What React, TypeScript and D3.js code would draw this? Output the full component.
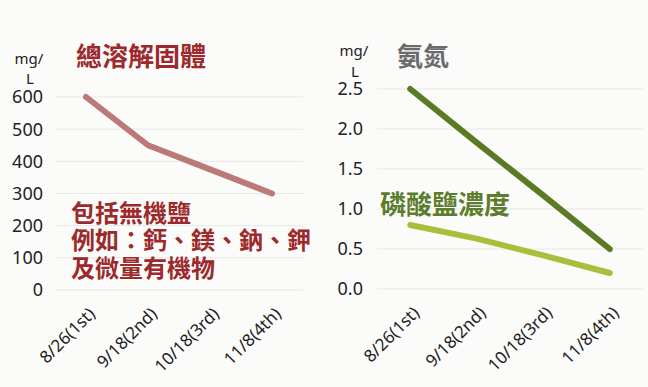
import React, { useEffect, useRef } from 'react';
import * as d3 from 'd3';

const categories = ['8/26(1st)', '9/18(2nd)', '10/18(3rd)', '11/8(4th)'];
const tdsValues = [600, 450, 375, 300];
const ammoniaValues = [2.5, 1.83, 1.17, 0.5];
const phosphateValues = [0.8, 0.63, 0.42, 0.2];
const leftTicks = [0, 100, 200, 300, 400, 500, 600];
const rightTicks = [0, 0.5, 1, 1.5, 2, 2.5];

const W = 648;
const H = 387;
const numFont = '"Noto Sans", "Open Sans", sans-serif';
const cjkFont = '"Noto Sans CJK TC", sans-serif';

const App = () => {
  const ref = useRef<SVGSVGElement>(null);

  useEffect(() => {
    const svg = d3.select(ref.current);
    svg.selectAll('*').remove();

    svg.append('rect').attr('width', W).attr('height', H).attr('fill', '#fbfbf9');

    const drawPanel = (
      x0: number,
      x1: number,
      y: d3.ScaleLinear<number, number>,
      ticks: number[],
      fmt: (d: number) => string,
      labelRight: number,
      series: { values: number[]; color: string }[]
    ) => {
      const x = d3.scalePoint<string>().domain(categories).range([x0, x1]).padding(0.5);
      const g = svg.append('g');

      g.selectAll('line.grid')
        .data(ticks)
        .enter()
        .append('line')
        .attr('x1', x0)
        .attr('x2', x1)
        .attr('y1', d => y(d))
        .attr('y2', d => y(d))
        .attr('stroke', '#e6e6e4')
        .attr('stroke-width', 1);

      g.selectAll('text.tick')
        .data(ticks)
        .enter()
        .append('text')
        .attr('x', labelRight)
        .attr('y', d => y(d))
        .attr('dy', '0.36em')
        .attr('text-anchor', 'end')
        .attr('font-family', numFont)
        .attr('font-size', 18)
        .attr('fill', '#222')
        .text(fmt);

      g.selectAll('text.cat')
        .data(categories)
        .enter()
        .append('text')
        .attr('transform', d => `translate(${(x(d) as number) + 10},${y(0) + 25}) rotate(-45)`)
        .attr('text-anchor', 'end')
        .attr('font-family', numFont)
        .attr('font-size', 17)
        .attr('fill', '#222')
        .text(d => d);

      const line = d3
        .line<number>()
        .x((_, i) => x(categories[i]) as number);

      series.forEach(s => {
        g.append('path')
          .datum(s.values)
          .attr('d', line.y(d => y(d)))
          .attr('fill', 'none')
          .attr('stroke', s.color)
          .attr('stroke-width', 6)
          .attr('stroke-linecap', 'round')
          .attr('stroke-linejoin', 'round');
      });
    };

    const yLeft = d3.scaleLinear().domain([0, 600]).range([290, 97]);
    drawPanel(55, 303, yLeft, leftTicks, d => String(d), 43, [
      { values: tdsValues, color: '#b97a79' },
    ]);

    const yRight = d3.scaleLinear().domain([0, 2.5]).range([289, 89]);
    drawPanel(377, 643, yRight, rightTicks, d => d.toFixed(1), 363, [
      { values: ammoniaValues, color: '#5a7a24' },
      { values: phosphateValues, color: '#a9bf3c' },
    ]);

    const addText = (
      t: string,
      tx: number,
      ty: number,
      size: number,
      color: string,
      font: string,
      weight = 'normal',
      anchor = 'start'
    ) =>
      svg
        .append('text')
        .attr('x', tx)
        .attr('y', ty)
        .attr('font-size', size)
        .attr('font-family', font)
        .attr('font-weight', weight)
        .attr('fill', color)
        .attr('text-anchor', anchor)
        .text(t);

    // units
    addText('mg/', 29, 64, 15, '#222', numFont, 'normal', 'middle');
    addText('L', 30, 84, 15, '#222', numFont, 'normal', 'middle');
    addText('mg/', 354, 56, 15, '#222', numFont, 'normal', 'middle');
    addText('L', 355, 77, 15, '#222', numFont, 'normal', 'middle');

    // titles and notes
    const red = '#9c2a2c';
    addText('總溶解固體', 76, 66, 26, red, cjkFont, 'bold');
    addText('包括無機鹽', 71, 222, 24, red, cjkFont, 'bold');
    addText('例如：鈣、鎂、鈉、鉀', 71, 249, 24, red, cjkFont, 'bold');
    addText('及微量有機物', 71, 277, 24, red, cjkFont, 'bold');
    addText('氨氮', 397, 66, 26, '#6b6b6b', cjkFont, 'bold');
    addText('磷酸鹽濃度', 380, 214, 26, '#5d7d2c', cjkFont, 'bold');
  }, []);

  return (
    <svg
      ref={ref}
      width={W}
      height={H}
      style={{ position: 'absolute', left: 0, top: 0, display: 'block' }}
    />
  );
};

export default App;
